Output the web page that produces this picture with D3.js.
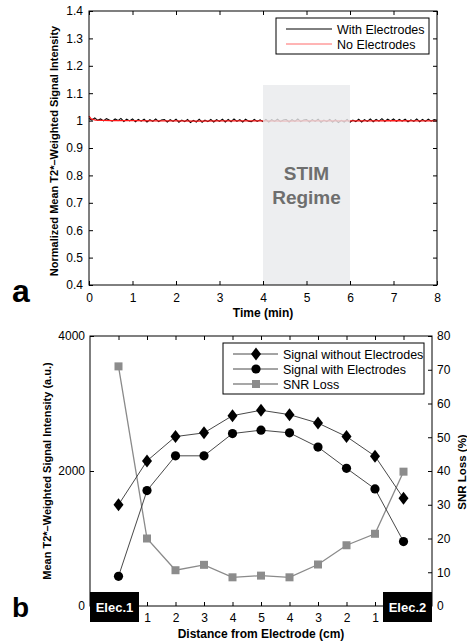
<!DOCTYPE html>
<html>
<head>
<meta charset="utf-8">
<script src="https://cdn.jsdelivr.net/npm/d3@7"></script>
<style>
  body { margin: 0; background: #fff; }
  svg { font-family: "Liberation Sans", Arial, Helvetica, sans-serif; }
</style>
</head>
<body>
<svg id="chart" width="467" height="643"></svg>
<script>
// ---- panel a data ----
// black trace, one sample every 4 s (0..8 min)
const withElectrodes = [
  1.008,1.002,1.010,1.001,1.006,0.999,1.007,1.002,0.998,1.006,1.000,1.008,0.997,1.005,0.999,
  1.006,0.996,1.004,0.998,1.005,0.995,1.003,0.997,1.006,0.996,1.002,1.004,0.995,1.003,0.997,
  1.005,0.994,1.002,0.996,1.004,0.993,1.001,0.995,1.005,0.994,1.002,0.996,1.004,0.995,1.003,
  0.997,1.005,0.995,1.004,0.996,1.006,0.997,1.003,0.995,1.005,0.998,0.996,1.004,0.997,1.003,
  0.996,1.004,0.995,1.003,0.997,1.005,0.996,1.002,1.004,0.995,1.003,0.997,1.006,0.996,1.002,
  1.004,0.995,1.003,0.997,1.005,0.994,1.002,0.996,1.004,0.995,1.003,0.993,1.001,0.995,1.004,
  0.994,1.002,0.996,1.005,0.995,1.003,0.997,1.006,0.996,1.004,0.998,1.007,0.997,1.005,0.999,
  1.006,0.997,1.004,0.998,1.005,0.996,1.003,0.997,1.006,0.996,1.004,0.997,1.005,0.998,1.004,
  1.001
];
const noElecTime = [0, 0.05, 0.15, 0.3, 0.5, 1, 1.5, 2, 2.5, 3, 3.5, 4, 4.5, 5, 5.5, 6, 6.5, 7, 7.5, 8];
const noElectrodes = [1.016, 1.006, 1.002, 1.001, 1.000, 1.000, 0.999, 0.999, 0.998, 0.999, 0.999, 0.999, 0.998, 0.999, 0.999, 0.999, 0.999, 1.000, 0.999, 0.999];
const stimStart = 4, stimEnd = 6, stimTop = 1.13;
const timeTicks = [0, 1, 2, 3, 4, 5, 6, 7, 8];
const intensityTicks = [0.4, 0.5, 0.6, 0.7, 0.8, 0.9, 1, 1.1, 1.2, 1.3, 1.4];

// ---- panel b data ----
const distIndex = [0, 1, 2, 3, 4, 5, 6, 7, 8, 9, 10];
const distLabels = ["", "1", "2", "3", "4", "5", "4", "3", "2", "1", ""];
const signalWithout = [1500, 2150, 2510, 2565, 2820, 2900, 2835, 2710, 2510, 2220, 1595];
const signalWith = [440, 1710, 2225, 2225, 2555, 2605, 2565, 2355, 2040, 1735, 955];
const snrLoss = [71.0, 20.0, 10.6, 12.2, 8.5, 9.0, 8.5, 12.3, 18.0, 21.4, 39.8];
const leftTicks = [0, 2000, 4000];
const rightTicks = [0, 10, 20, 30, 40, 50, 60, 70, 80];

const svg = d3.select('#chart');

// ================= panel a =================
const a = {left: 89, right: 437, top: 11, bottom: 285};
const xA = d3.scaleLinear().domain([0, 8]).range([a.left, a.right]);
const yA = d3.scaleLinear().domain([0.4, 1.4]).range([a.bottom, a.top]);
const gA = svg.append('g');

const lineA = d3.line().x(d => xA(d[0])).y(d => yA(d[1]));
const blackPts = withElectrodes.map((v, i) => [i * 8 / (withElectrodes.length - 1), v]);
const redPts = noElectrodes.map((v, i) => [noElecTime[i], v]);

gA.append('path').datum(blackPts)
  .attr('d', lineA).attr('fill', 'none').attr('stroke', '#000').attr('stroke-width', 1.1);
gA.append('path').datum(redPts)
  .attr('d', lineA).attr('fill', 'none').attr('stroke', '#ff1a1a').attr('stroke-width', 1.2);

// stim regime shading covers the traces
gA.append('rect')
  .attr('x', xA(stimStart)).attr('y', yA(stimTop))
  .attr('width', xA(stimEnd) - xA(stimStart))
  .attr('height', yA(0.4) - yA(stimTop))
  .attr('fill', '#e9eaec').attr('opacity', 0.8);
gA.append('text').attr('x', xA(5)).attr('y', 180)
  .attr('text-anchor', 'middle').style('font-size', '19px').style('font-weight', 'bold')
  .attr('fill', '#6e6e6e').text('STIM');
gA.append('text').attr('x', xA(5)).attr('y', 204)
  .attr('text-anchor', 'middle').style('font-size', '19px').style('font-weight', 'bold')
  .attr('fill', '#6e6e6e').text('Regime');

// box + axes (MATLAB style, ticks inside)
gA.append('rect').attr('x', a.left).attr('y', a.top)
  .attr('width', a.right - a.left).attr('height', a.bottom - a.top)
  .attr('fill', 'none').attr('stroke', '#000').attr('stroke-width', 1);

function styleAxis(g) {
  g.select('.domain').remove();
  g.selectAll('line').attr('stroke', '#000');
  g.selectAll('text').style('font-size', '12px').attr('fill', '#000');
}
gA.append('g').attr('transform', `translate(0,${a.bottom})`)
  .call(d3.axisBottom(xA).tickValues(timeTicks).tickSize(-4).tickPadding(8).tickFormat(d3.format('d')))
  .call(styleAxis);
gA.append('g').attr('transform', `translate(0,${a.top})`)
  .call(d3.axisTop(xA).tickValues(timeTicks).tickSize(-4).tickFormat(''))
  .call(styleAxis);
gA.append('g').attr('transform', `translate(${a.left},0)`)
  .call(d3.axisLeft(yA).tickValues(intensityTicks).tickSize(-4).tickPadding(6).tickFormat(d => d3.format('')(+d.toFixed(1))))
  .call(styleAxis);
gA.append('g').attr('transform', `translate(${a.right},0)`)
  .call(d3.axisRight(yA).tickValues(intensityTicks).tickSize(-4).tickFormat(''))
  .call(styleAxis);

gA.append('text').attr('x', (a.left + a.right) / 2).attr('y', 317)
  .attr('text-anchor', 'middle').style('font-size', '12px').style('font-weight', 'bold')
  .text('Time (min)');
gA.append('text')
  .attr('transform', `translate(58,${(a.top + a.bottom) / 2 + 3}) rotate(-90)`)
  .attr('text-anchor', 'middle').style('font-size', '11px').style('font-weight', 'bold')
  .text('Normalized Mean T2*\u2013Weighted Signal Intensity');
gA.append('text').attr('x', 12).attr('y', 302)
  .style('font-size', '32px').style('font-weight', 'bold').text('a');

// legend a
const legA = gA.append('g');
legA.append('rect').attr('x', 276).attr('y', 18).attr('width', 153).attr('height', 36)
  .attr('fill', '#fff').attr('stroke', '#000').attr('stroke-width', 1);
[['With Electrodes', '#000'], ['No Electrodes', '#ff6b6b']].forEach((d, i) => {
  const y = 29 + i * 15;
  legA.append('line').attr('x1', 286).attr('x2', 332).attr('y1', y).attr('y2', y)
    .attr('stroke', d[1]).attr('stroke-width', 1);
  legA.append('text').attr('x', 337).attr('y', y + 4.5)
    .style('font-size', '12.5px').text(d[0]);
});

// ================= panel b =================
const b = {left: 90, right: 432, top: 336, bottom: 606};
const xB = d3.scaleLinear().domain([-1, 11]).range([b.left, b.right]);
const yL = d3.scaleLinear().domain([0, 4000]).range([b.bottom, b.top]);
const yR = d3.scaleLinear().domain([0, 80]).range([b.bottom, b.top]);
const gB = svg.append('g');

gB.append('rect').attr('x', b.left).attr('y', b.top)
  .attr('width', b.right - b.left).attr('height', b.bottom - b.top)
  .attr('fill', 'none').attr('stroke', '#000').attr('stroke-width', 1);

gB.append('g').attr('transform', `translate(0,${b.bottom})`)
  .call(d3.axisBottom(xB).tickValues(distIndex).tickSize(-4).tickPadding(7).tickFormat((d, i) => distLabels[i]))
  .call(styleAxis);
gB.append('g').attr('transform', `translate(0,${b.top})`)
  .call(d3.axisTop(xB).tickValues(distIndex).tickSize(-4).tickFormat(''))
  .call(styleAxis);
gB.append('g').attr('transform', `translate(${b.left},0)`)
  .call(d3.axisLeft(yL).tickValues(leftTicks).tickSize(-4).tickPadding(5).tickFormat(d3.format('d')))
  .call(styleAxis);
gB.append('g').attr('transform', `translate(${b.right},0)`)
  .call(d3.axisRight(yR).tickValues(rightTicks).tickSize(-4).tickPadding(5).tickFormat(d3.format('d')))
  .call(styleAxis);

// series lines
const lineL = d3.line().x((d, i) => xB(distIndex[i])).y(d => yL(d));
const lineR = d3.line().x((d, i) => xB(distIndex[i])).y(d => yR(d));
gB.append('path').datum(snrLoss).attr('d', lineR)
  .attr('fill', 'none').attr('stroke', '#8a8a8a').attr('stroke-width', 1.3);
gB.append('path').datum(signalWith).attr('d', lineL)
  .attr('fill', 'none').attr('stroke', '#333').attr('stroke-width', 0.9);
gB.append('path').datum(signalWithout).attr('d', lineL)
  .attr('fill', 'none').attr('stroke', '#333').attr('stroke-width', 0.9);

const diamond = 'M0,-6.5L5,0L0,6.5L-5,0Z';
gB.selectAll('.sq').data(snrLoss).join('rect').attr('class', 'sq')
  .attr('x', (d, i) => xB(distIndex[i]) - 4).attr('y', d => yR(d) - 4)
  .attr('width', 8).attr('height', 8).attr('fill', '#8c8c8c');
gB.selectAll('.circ').data(signalWith).join('circle').attr('class', 'circ')
  .attr('cx', (d, i) => xB(distIndex[i])).attr('cy', d => yL(d))
  .attr('r', 4.6).attr('fill', '#000');
gB.selectAll('.dia').data(signalWithout).join('path').attr('class', 'dia')
  .attr('transform', (d, i) => `translate(${xB(distIndex[i])},${yL(d)})`)
  .attr('d', diamond).attr('fill', '#000');

// electrode boxes
[['Elec.1', b.left], ['Elec.2', 383]].forEach(d => {
  gB.append('rect').attr('x', d[1]).attr('y', 592).attr('width', 49).attr('height', 30).attr('fill', '#000');
  gB.append('text').attr('x', d[1] + 24.5).attr('y', 612).attr('text-anchor', 'middle')
    .style('font-size', '13px').style('font-weight', 'bold').attr('fill', '#fff').text(d[0]);
});

gB.append('text').attr('x', 261).attr('y', 638)
  .attr('text-anchor', 'middle').style('font-size', '12px').style('font-weight', 'bold')
  .text('Distance from Electrode (cm)');
gB.append('text')
  .attr('transform', `translate(51,471) rotate(-90)`)
  .attr('text-anchor', 'middle').style('font-size', '11px').style('font-weight', 'bold')
  .text('Mean T2*\u2013Weighted Signal Intensity (a.u.)');
gB.append('text')
  .attr('transform', `translate(466,472) rotate(-90)`)
  .attr('text-anchor', 'middle').style('font-size', '11.5px').style('font-weight', 'bold')
  .text('SNR Loss (%)');
gB.append('text').attr('x', 12).attr('y', 617)
  .style('font-size', '28px').style('font-weight', 'bold').text('b');

// legend b
const legB = gB.append('g');
legB.append('rect').attr('x', 223).attr('y', 343).attr('width', 201).attr('height', 51)
  .attr('fill', '#fff').attr('stroke', '#000').attr('stroke-width', 1);
const legItems = [
  {label: 'Signal without Electrodes', color: '#333', mark: 'diamond'},
  {label: 'Signal with Electrodes', color: '#333', mark: 'circle'},
  {label: 'SNR Loss', color: '#8a8a8a', mark: 'square'}
];
legItems.forEach((d, i) => {
  const y = 354 + i * 15;
  legB.append('line').attr('x1', 233).attr('x2', 278).attr('y1', y).attr('y2', y)
    .attr('stroke', d.color).attr('stroke-width', d.mark === 'square' ? 1.3 : 0.9);
  if (d.mark === 'diamond') legB.append('path').attr('transform', `translate(256,${y})`).attr('d', diamond).attr('fill', '#000');
  if (d.mark === 'circle') legB.append('circle').attr('cx', 256).attr('cy', y).attr('r', 4.6).attr('fill', '#000');
  if (d.mark === 'square') legB.append('rect').attr('x', 252).attr('y', y - 4).attr('width', 8).attr('height', 8).attr('fill', '#8c8c8c');
  legB.append('text').attr('x', 283).attr('y', y + 4.5).style('font-size', '12.5px').text(d.label);
});
</script>
</body>
</html>
